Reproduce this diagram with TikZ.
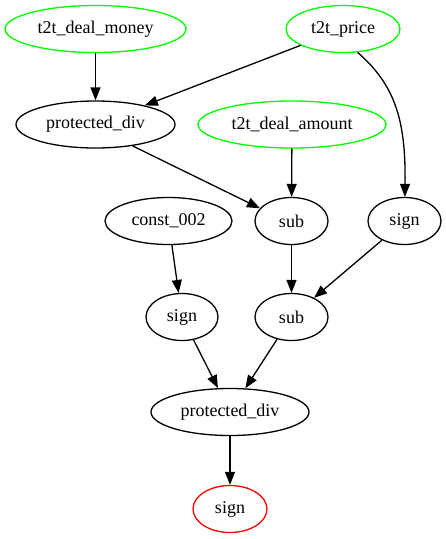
\documentclass[tikz,border=0pt]{standalone}
\usepackage{fontspec}
\setmainfont{Liberation Serif}
\usetikzlibrary{shapes.geometric,arrows.meta}
\definecolor{srcgreen}{RGB}{0,255,0}
\definecolor{outred}{RGB}{255,0,0}
\begin{document}
\begin{tikzpicture}[x=1pt,y=-1pt,
  op/.style={ellipse,draw,line width=1.3pt,inner sep=0pt,minimum height=47pt,
    font=\fontsize{18}{20}\selectfont},
  src/.style={op,draw=srcgreen},
  outp/.style={op,draw=outred},
  edge/.style={line width=1.3pt,-{Triangle[length=13pt,width=10pt]}}]
\useasboundingbox (0,0) rectangle (446,539);
% input terminals
\node[src,minimum width=181pt] (money) at (95.5,29) {t2t\_deal\_money};
\node[src,minimum width=114pt] (price) at (343,29) {t2t\_price};
\node[src,minimum width=188pt] (amount) at (292,124.5) {t2t\_deal\_amount};
% operators
\node[op,minimum width=159pt] (pdivA) at (95.5,124.5) {protected\_div};
\node[op,minimum width=127pt] (const) at (168.5,221) {const\_002};
\node[op,minimum width=73pt] (subA) at (291.5,221) {sub};
\node[op,minimum width=73pt] (signR) at (404.5,221) {sign};
\node[op,minimum width=72pt] (signL) at (182,317) {sign};
\node[op,minimum width=73pt] (subB) at (291.5,317) {sub};
\node[op,minimum width=158pt] (pdivB) at (230,412) {protected\_div};
% output
\node[outp,minimum width=74pt] (out) at (230,509) {sign};
% connectors
\draw[edge] (money) -- (pdivA);
\draw[edge] (price) -- (pdivA);
\draw[edge] (price.-58) .. controls (395,85) and (406,120) .. (signR);
\draw[edge] (pdivA.-30) -- (subA.158);
\draw[edge] (amount) -- (subA);
\draw[edge] (const) -- (signL);
\draw[edge] (subA) -- (subB);
\draw[edge] (signR) -- (subB);
\draw[edge] (signL) -- (pdivB);
\draw[edge] (subB) -- (pdivB);
\draw[edge] (pdivB) -- (out);
\end{tikzpicture}
\end{document}
